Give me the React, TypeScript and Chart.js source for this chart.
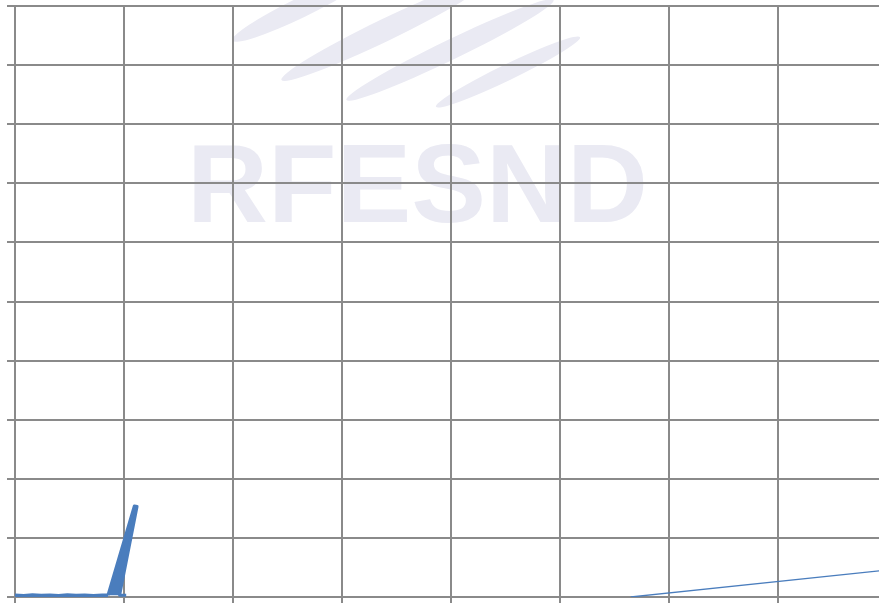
import React, { useEffect, useRef } from "react";
import { Chart, registerables } from "chart.js";

Chart.register(...registerables);

// Thick trace near the origin (x in grid units, y in grid units)
const baseX = [0, 0.08, 0.16, 0.24, 0.32, 0.4, 0.48, 0.56, 0.64, 0.72, 0.8, 0.853];
const baseY = [0.03, 0.02, 0.035, 0.025, 0.03, 0.02, 0.035, 0.025, 0.03, 0.02, 0.03, 0.03];
const spikeX = [0.853, 1.095, 1.12, 0.96, 1.02];
const spikeY = [0.03, 1.54, 1.53, 0.03, 0.03];
// Thin rising trace on the right
const rampX = [5.65, 8.0];
const rampY = [0.0, 0.457];

const X_MAX = 7.927;
const Y_MAX = 10;
const BLUE = "#4a7dbd";
const GRID = "#8a8a8a";

const watermark = {
  id: "watermark",
  beforeDraw(chart: any) {
    const ctx = chart.ctx as CanvasRenderingContext2D;
    ctx.save();
    ctx.fillStyle = "rgb(234,234,243)";
    const swooshes = [
      [300, 8, 75, 10],
      [385, 30, 115, 11],
      [450, 50, 115, 10],
      [508, 72, 80, 8],
    ];
    for (const [cx, cy, rx, ry] of swooshes) {
      ctx.beginPath();
      ctx.ellipse(cx, cy, rx, ry, -0.45, 0, Math.PI * 2);
      ctx.fill();
    }
    ctx.font = 'bold 112px "Liberation Sans"';
    const text = "RFESND";
    const w = ctx.measureText(text).width;
    ctx.translate(187, 222);
    ctx.scale(461 / w, 1);
    ctx.textBaseline = "alphabetic";
    ctx.fillText(text, 0, 0);
    ctx.restore();
  },
};

export default function App() {
  const ref = useRef<HTMLCanvasElement>(null);
  useEffect(() => {
    if (!ref.current) return;
    const mk = (xs: number[], ys: number[]) => xs.map((x, i) => ({ x, y: ys[i] }));
    const chart = new Chart(ref.current, {
      type: "line",
      data: {
        datasets: [
          { data: mk(baseX, baseY), borderColor: BLUE, borderWidth: 3.5, pointRadius: 0, tension: 0 },
          { data: mk(spikeX, spikeY), borderColor: BLUE, backgroundColor: BLUE, fill: "shape", borderWidth: 3, pointRadius: 0, tension: 0, borderJoinStyle: "round" },
          { data: mk(rampX, rampY), borderColor: BLUE, borderWidth: 1.3, pointRadius: 0, tension: 0 },
        ],
      },
      options: {
        animation: false,
        responsive: true,
        maintainAspectRatio: false,
        layout: { padding: { left: 7, top: 6, right: 0, bottom: 0 } },
        plugins: { legend: { display: false }, tooltip: { enabled: false } },
        scales: {
          x: {
            type: "linear",
            min: 0,
            max: X_MAX,
            ticks: { display: false, stepSize: 1, includeBounds: false },
            grid: { color: GRID, lineWidth: 2, tickLength: 6 },
            border: { color: GRID, width: 2 },
          },
          y: {
            type: "linear",
            min: 0,
            max: Y_MAX,
            ticks: { display: false, stepSize: 1 },
            grid: { color: GRID, lineWidth: 2, tickLength: 8 },
            border: { color: GRID, width: 2 },
          },
        },
      },
      plugins: [watermark],
    });
    return () => chart.destroy();
  }, []);
  return (
    <div style={{ position: "fixed", left: 0, top: 0, width: 879, height: 603, background: "#fff" }}>
      <canvas ref={ref} />
    </div>
  );
}
